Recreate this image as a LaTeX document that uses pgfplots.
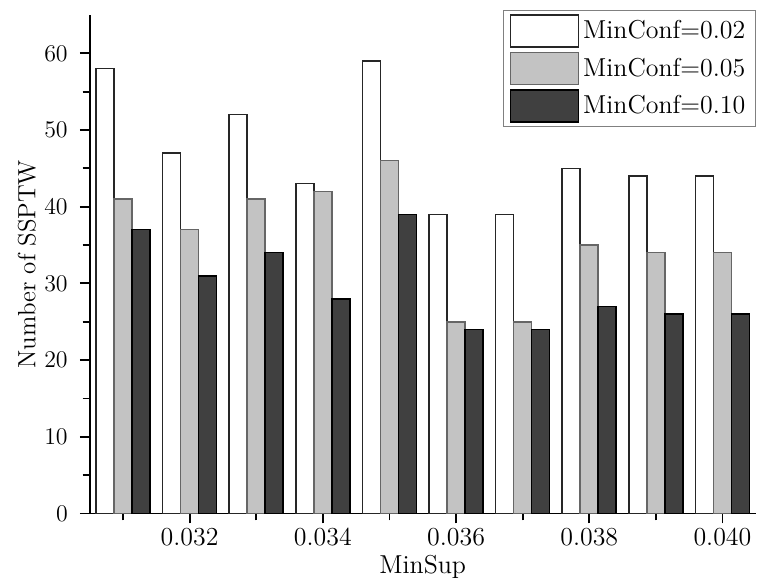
\documentclass[border=0pt]{standalone}
\usepackage{pgfplots}
\pgfplotsset{compat=1.18}
\definecolor{lgray}{RGB}{195,195,195}
\definecolor{dgray}{RGB}{64,64,64}
\newcommand{\fs}{\fontsize{13}{15}\selectfont}
\begin{document}
\begin{tikzpicture}
\begin{axis}[
  name=ax,
  scale only axis,
  width=334pt, height=250pt,
  ybar=0pt, bar width=0.27,
  xmin=30.5, xmax=40.5,
  ymin=0, ymax=65,
  axis x line*=bottom, axis y line*=left,
  x axis line style={-, line width=0.9pt},
  y axis line style={-, line width=0.9pt},
  xtick={32,34,36,38,40},
  xticklabels={0.032,0.034,0.036,0.038,0.040},
  minor xtick={31,33,35,37,39},
  ytick={0,10,20,30,40,50,60},
  minor ytick={5,15,25,35,45,55},
  tick align=outside,
  major tick length=5pt, minor tick length=3.5pt,
  every tick/.style={black, line width=0.9pt},
  tick label style={font=\fs},
  xticklabel style={yshift=1pt},
  yticklabel style={xshift=-2.5pt},
  xlabel={MinSup}, ylabel={Number of SSPTW},
  xlabel style={font=\fs, at={(axis description cs:0.5,0)}, anchor=base, yshift=-30pt},
  ylabel style={font=\fontsize{12.5}{15}\selectfont, at={(axis description cs:0,0.5)}, anchor=center, yshift=31.5pt},
  legend style={at={(rel axis cs:1,1)}, anchor=north east, yshift=2.5pt,
    draw=gray, font=\fs, row sep=2pt, inner xsep=3pt, inner ysep=2pt},
  legend cell align=left,
  legend image code/.code={\draw[#1, line width=0.8pt] (0pt,-8pt) rectangle (34pt,8pt);},
]
\addplot[fill=white, draw=black!85, line width=0.8pt] coordinates {
 (31,58) (32,47) (33,52) (34,43) (35,59) (36,39) (37,39) (38,45) (39,44) (40,44)};
\addplot[fill=lgray, draw=black!60, line width=0.8pt] coordinates {
 (31,41) (32,37) (33,41) (34,42) (35,46) (36,25) (37,25) (38,35) (39,34) (40,34)};
\addplot[fill=dgray, draw=black, line width=0.8pt] coordinates {
 (31,37) (32,31) (33,34) (34,28) (35,39) (36,24) (37,24) (38,27) (39,26) (40,26)};
\legend{MinConf=0.02, MinConf=0.05, MinConf=0.10}
\end{axis}
\path ([xshift=-45pt,yshift=7.5pt]ax.north west) rectangle ([yshift=-33pt]ax.south east);
\end{tikzpicture}
\end{document}
